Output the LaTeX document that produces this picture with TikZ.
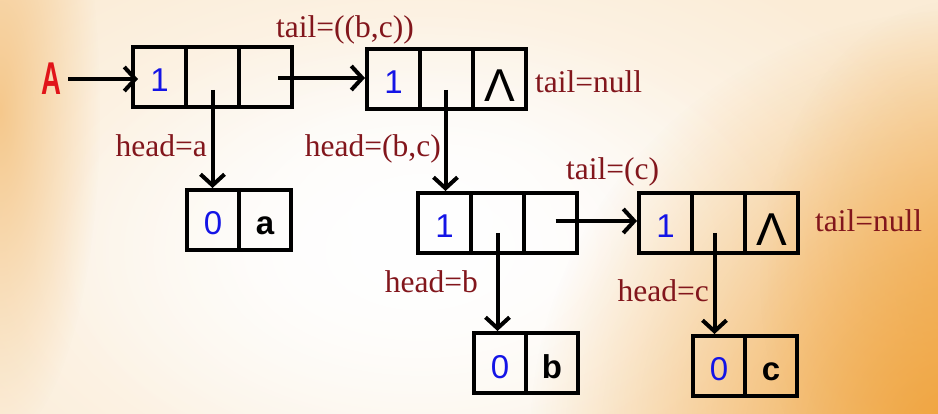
\documentclass[tikz,border=0pt]{standalone}
\usepackage{fontspec}
\setmainfont{Liberation Serif}
\setsansfont{Liberation Sans}
\usetikzlibrary{arrows.meta,fadings,calc}

\definecolor{lblred}{RGB}{130,22,28}
\definecolor{numblue}{RGB}{20,20,230}
\definecolor{ared}{RGB}{225,20,25}
\definecolor{bgbase}{RGB}{251,236,214}
\definecolor{bgorange}{RGB}{240,162,58}
\definecolor{bgleft}{RGB}{245,200,140}

\tikzfading[name=radfade, inner color=transparent!0, outer color=transparent!100]

\tikzset{
  cell/.style={draw, line width=4pt, minimum width=53pt, minimum height=60pt,
    inner sep=0pt, text height=30pt, text depth=0pt,
    font=\sffamily\fontsize{33}{33}\selectfont},
  leafcell/.style={cell, minimum width=52pt},
  num/.style={text=numblue},
  lbl/.style={text=lblred, inner sep=0pt, font=\fontsize{31.5}{31.5}\selectfont},
  ptr/.style={line width=4pt, -{Straight Barb[length=11pt,width=24pt]}},
}
\newcommand{\nilsym}{\raisebox{-8pt}{\fontsize{46}{46}\selectfont Λ}}

\begin{document}
\begin{tikzpicture}[x=1pt, y=-1pt]
\useasboundingbox (0,0) rectangle (938,414);
\begin{scope}
\clip (0,0) rectangle (938,414);
\fill[bgbase] (0,0) rectangle (938,414);
\fill[white, path fading=radfade] (420,250) ellipse [x radius=560, y radius=340];
\fill[white, path fading=radfade] (420,250) ellipse [x radius=380, y radius=240];
\fill[white, opacity=0.7, path fading=radfade] (420,220) ellipse [x radius=250, y radius=160];
\fill[bgorange, path fading=radfade] (960,440) circle (430);
\fill[bgorange, opacity=0.5, path fading=radfade] (960,280) ellipse [x radius=200, y radius=280];
\fill[bgleft, path fading=radfade] (0,110) ellipse [x radius=100, y radius=330];
\end{scope}

% record 1
\node[cell, num] (n1a) at (159.5,77) {1};
\node[cell] (n1b) at (212.5,77) {};
\node[cell] (n1c) at (265.5,77) {};
% record 2
\node[cell, num] (n2a) at (393.5,79) {1};
\node[cell] (n2b) at (446.5,79) {};
\node[cell] (n2c) at (499.5,79) {\nilsym};
% record 3
\node[cell, num] (n3a) at (444.5,223) {1};
\node[cell] (n3b) at (497.5,223) {};
\node[cell] (n3c) at (550.5,223) {};
% record 4
\node[cell, num] (n4a) at (665.5,223) {1};
\node[cell] (n4b) at (718.5,223) {};
\node[cell] (n4c) at (771.5,223) {\nilsym};
% atoms
\node[leafcell, num] (la0) at (213,220) {0};
\node[leafcell] (la1) at (265,220) {\bfseries a};
\node[leafcell, num] (lb0) at (500,363) {0};
\node[leafcell] (lb1) at (552,363) {\bfseries b};
\node[leafcell, num] (lc0) at (719,366) {0};
\node[leafcell] (lc1) at (771,366) {\bfseries c};

% head pointer A
\node[text=ared, inner sep=0pt, font=\sffamily\bfseries\fontsize{46}{46}\selectfont] (A) at (51,79) {\scalebox{0.6}[1]{A}};
\draw[ptr] ([xshift=7pt]A.east) -- ([xshift=7pt]A.east -| n1a.west);

% pointers
\coordinate (p1t) at ($(n1c.center)+(12.5,1)$);
\coordinate (p1h) at ($(n1b.center)+(0,13)$);
\coordinate (p2h) at ($(n2b.center)+(-1,11)$);
\coordinate (p3t) at ($(n3c.center)+(5,-2)$);
\coordinate (p3h) at ($(n3b.center)+(0,10)$);
\coordinate (p4h) at ($(n4b.center)+(-4,10)$);
\draw[ptr] (p1t) -- (p1t -| n2a.west);
\draw[ptr] (p1h) -- (p1h |- la0.north);
\draw[ptr] (p2h) -- (p2h |- n3a.north);
\draw[ptr] (p3t) -- (p3t -| n4a.west);
\draw[ptr] (p3h) -- (p3h |- lb0.north);
\draw[ptr] (p4h) -- (p4h |- lc0.north);

% labels
\node[lbl, anchor=base west] (t1) at (276,38) {tail=((b,c))};
\node[lbl, anchor=base west] (t2) at (535,93) {tail=null};
\node[lbl, anchor=base east] (h1) at (207,157) {head=a};
\node[lbl, anchor=base east] (h2) at (441,157) {head=(b,c)};
\node[lbl, anchor=base west] (t3) at (566,180) {tail=(c)};
\node[lbl, anchor=base west] (t4) at (815,232) {tail=null};
\node[lbl, anchor=base east] (h3) at (478,293) {head=b};
\node[lbl, anchor=base east] (h4) at (709,302) {head=c};
\end{tikzpicture}
\end{document}
